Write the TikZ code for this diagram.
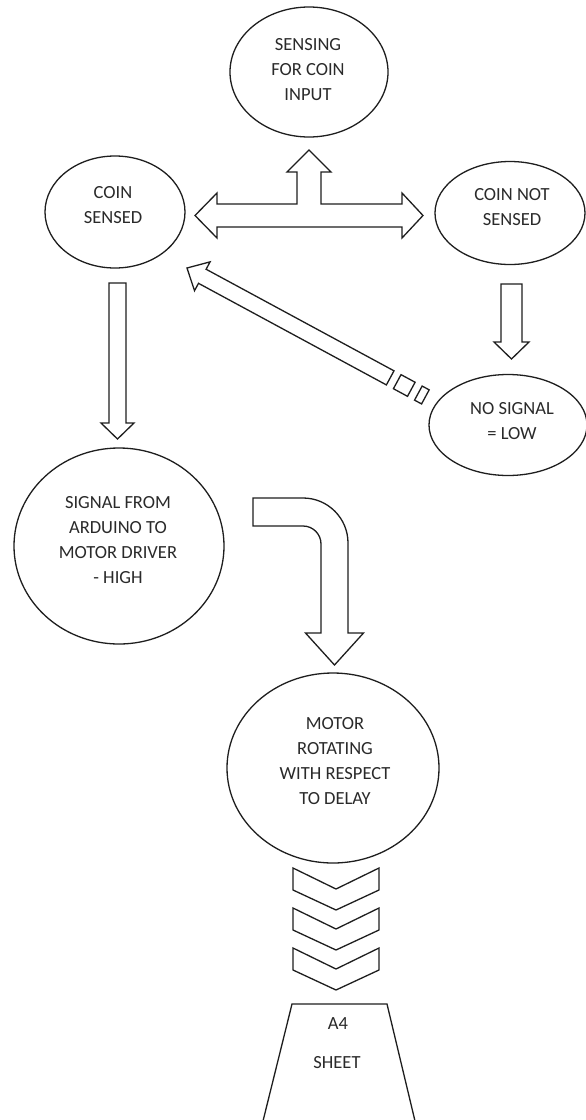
\documentclass[tikz,border=0pt]{standalone}
\usepackage{fontspec}
\setmainfont{Carlito}
\usetikzlibrary{shapes.geometric}
\definecolor{linec}{HTML}{1E1E1E}
\definecolor{textc}{HTML}{2A2A2A}
\newcommand{\lblfont}{\fontsize{18.5}{25}\selectfont}
\tikzset{
  ell/.style={draw=linec, line width=1.3pt, ellipse, inner sep=0pt},
  blk/.style={draw=linec, line width=1.3pt, fill=white, line join=miter},
  lbl/.style={text=textc, align=center, font=\lblfont, inner sep=0pt}
}
\begin{document}
\begin{tikzpicture}[x=1pt,y=-1pt]
\useasboundingbox[fill=white] (0,0) rectangle (586,1120);

% ellipses
\node[ell, minimum width=158pt, minimum height=130pt] (sense) at (309,72) {};
\node[ell, minimum width=140pt, minimum height=112pt] (cs) at (115,212) {};
\node[ell, minimum width=150pt, minimum height=103pt] (cns) at (510,213) {};
\node[ell, minimum width=158pt, minimum height=101pt] (nosig) at (508,425) {};
\node[ell, minimum width=210pt, minimum height=196pt] (sig) at (119,546) {};
\node[ell, minimum width=212pt, minimum height=190pt] (motor) at (333,768) {};

% labels
\node[lbl] (tsense) at (308,70) {SENSING\\FOR COIN\\INPUT};
\node[lbl] (tcs) at (113,205) {COIN\\SENSED};
\node[lbl] (tcns) at (512,207) {COIN NOT\\SENSED};
\node[lbl] (tnosig) at (512,421) {NO SIGNAL\\= LOW};
\node[lbl] (tsig) at (118,540) {SIGNAL FROM\\ARDUINO TO\\MOTOR DRIVER\\- HIGH};
\node[lbl] (tmotor) at (335,761) {MOTOR\\ROTATING\\WITH RESPECT\\TO DELAY};

% three-way arrow
\draw[blk] (195,215.5) -- (217,193) -- (217,204) -- (297,204) -- (297,172) -- (287,172)
  -- (309,150) -- (331,172) -- (321,172) -- (321,204) -- (402,204) -- (402,193)
  -- (423,215.5) -- (402,238) -- (402,227) -- (217,227) -- (217,238) -- cycle;

% down arrow left
\draw[blk] (109,283) -- (126,283) -- (126,423) -- (134,423) -- (117.5,439) -- (101,423) -- (109,423) -- cycle;

% down arrow right
\draw[blk] (501,284) -- (522,284) -- (522,342) -- (529,342) -- (511.5,359) -- (494,342) -- (501,342) -- cycle;

% striped arrow from no signal back to coin sensed
\begin{scope}[shift={(187,268)}, rotate=-28.4]
\draw[blk] (0,0) -- (17.4,-16.4) -- (17.4,-8) -- (231,-8) -- (231,8) -- (17.4,8) -- (17.4,16.4) -- cycle;
\draw[blk] (239,-8) rectangle (255,8);
\draw[blk] (263,-8) rectangle (271,8);
\end{scope}

% bent arrow
\draw[blk] (253,498) -- (303,498) .. controls (327.85,498) and (348,518.15) .. (348,543)
  -- (348,633) -- (363.5,633) -- (334.5,665) -- (305.5,633) -- (321,633) -- (321,544)
  .. controls (321,534.06) and (312.94,526) .. (303,526) -- (253,526) -- cycle;

% chevrons
\foreach \t in {868,908,948}{
  \draw[blk] (293,\t) -- (336,\t+21) -- (379,\t) -- (379,\t+22) -- (336,\t+42) -- (293,\t+22) -- cycle;
}

% A4 sheet
\draw[draw=linec, line width=1.3pt, line join=miter] (263,1121) -- (292,1004) -- (387,1004) -- (415,1121);
\node[lbl] (ta4) at (338,1024) {A4};
\node[lbl] (tsheet) at (337,1063) {SHEET};
\end{tikzpicture}
\end{document}
